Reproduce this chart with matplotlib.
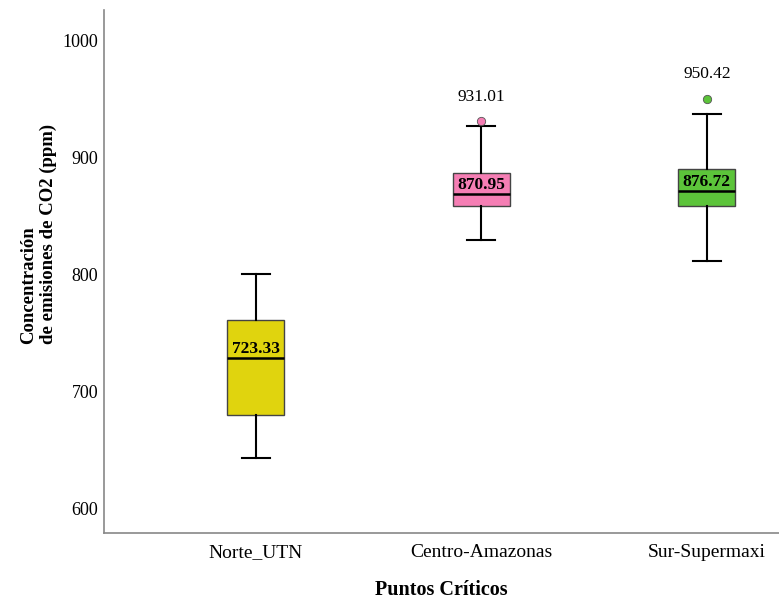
import matplotlib.pyplot as plt

plt.rcParams['font.family'] = ['Liberation Serif', 'DejaVu Serif']

# Box summary
sites = ['Norte_UTN', 'Centro-Amazonas', 'Sur-Supermaxi']
whisker_low = [643.3, 829.9, 811.7]
q1 = [679.5, 859.0, 858.7]
median = [728.8, 869.2, 871.8]
q3 = [761.3, 887.2, 890.6]
whisker_high = [800.6, 926.8, 937.0]
outliers = [[], [931.01], [950.42]]
mean_labels = ['723.33', '870.95', '876.72']
colors = ['#E0D40E', '#F57EB4', '#5CC43A']

stats = []
for i, name in enumerate(sites):
    stats.append({'label': name, 'whislo': whisker_low[i], 'q1': q1[i], 'med': median[i],
                  'q3': q3[i], 'whishi': whisker_high[i], 'fliers': outliers[i]})

fig = plt.figure(figsize=(7.79, 6.04), dpi=100)
ax = fig.add_axes([0.1335, 0.118, 0.8665, 0.865])

positions = [1, 2, 3]
bp = ax.bxp(stats, positions=positions, widths=0.253, patch_artist=True, showfliers=True,
            boxprops=dict(edgecolor='#444444', linewidth=1.0),
            medianprops=dict(color='black', linewidth=1.8),
            whiskerprops=dict(color='black', linewidth=1.5),
            capprops=dict(color='black', linewidth=1.5),
            capwidths=0.124)

for patch, c in zip(bp['boxes'], colors):
    patch.set_facecolor(c)
for fl, c in zip(bp['fliers'], colors):
    fl.set_marker('o')
    fl.set_markerfacecolor(c)
    fl.set_markeredgecolor('#555555')
    fl.set_markeredgewidth(0.6)
    fl.set_markersize(6)

# labels inside the boxes, just above the median line
for p, m, txt in zip(positions, median, mean_labels):
    ax.annotate(txt, xy=(p, m), xytext=(0, 0.5), textcoords='offset points',
                ha='center', va='bottom', fontsize=12.5, fontweight='bold')

# outlier labels
for p, out in zip(positions, outliers):
    for v in out:
        ax.annotate(f'{v:.2f}', xy=(p, v), xytext=(0, 12), textcoords='offset points',
                    ha='center', va='bottom', fontsize=12.5)

ax.set_xlim(0.326, 3.32)
ax.set_ylim(579.1, 1026)
ax.set_yticks([600, 700, 800, 900, 1000])
ax.set_xticks(positions)
ax.set_xticklabels(sites)
ax.tick_params(axis='y', length=0, labelsize=13, pad=4)
ax.tick_params(axis='x', length=0, labelsize=14, pad=8)

for s in ['top', 'right']:
    ax.spines[s].set_visible(False)
for s in ['left', 'bottom']:
    ax.spines[s].set_color('#888888')
    ax.spines[s].set_linewidth(1.2)

ax.set_xlabel('Puntos Críticos', fontsize=14.5, fontweight='bold', labelpad=14)
ax.set_ylabel('Concentración\nde emisiones de CO2 (ppm)', fontsize=13.5, fontweight='bold',
              va='center', multialignment='left', linespacing=1.15)
ax.yaxis.set_label_coords(-0.097, 0.571)

fig.savefig('out.png', dpi=100)
